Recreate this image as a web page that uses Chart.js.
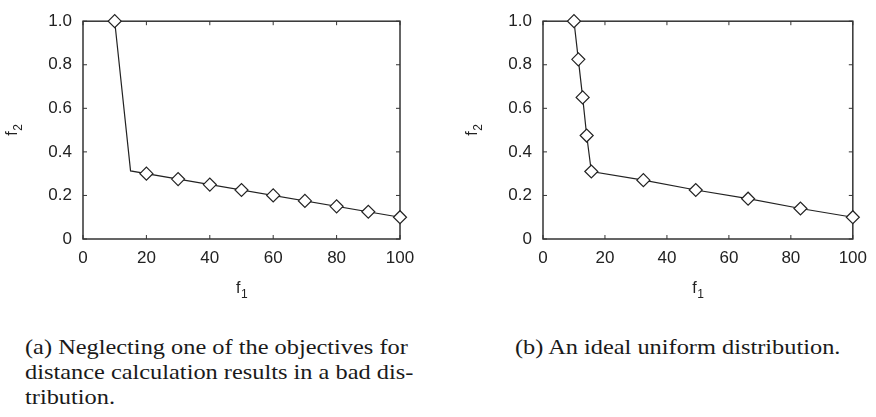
<!DOCTYPE html>
<html>
<head>
<meta charset="utf-8">
<script src="https://cdn.jsdelivr.net/npm/chart.js@4/dist/chart.umd.min.js"></script>
<style>
  body { margin: 0; background: #fff; width: 876px; height: 417px; position: relative; overflow: hidden; }
  canvas { position: absolute; top: 0; }
  #chartA { left: 0; }
  #chartB { left: 460px; }
  .caption {
    position: absolute; top: 335px;
    font-family: "Liberation Serif", "Times New Roman", serif;
    font-size: 21px; line-height: 25px; color: #1a1a1a; white-space: nowrap;
    transform: scaleX(1.16); transform-origin: 0 0;
  }
</style>
</head>
<body>
<canvas id="chartA" width="430" height="298"></canvas>
<canvas id="chartB" width="416" height="298"></canvas>
<div class="caption" style="left:25px">(a) Neglecting one of the objectives for<br>distance calculation results in a bad dis-<br>tribution.</div>
<div class="caption" style="left:515px">(b) An ideal uniform distribution.</div>

<script>
// front shared by both plots: steep part, knee, flat part
var frontF1 = [10, 15, 100]
var frontF2 = [1.0, 0.3125, 0.1]

// (a) solutions spread evenly along f1 only
var f1A = [10, 20, 30, 40, 50, 60, 70, 80, 90, 100]
var f2A = [1.0, 0.30, 0.275, 0.25, 0.225, 0.20, 0.175, 0.15, 0.125, 0.10]

// (b) solutions spread evenly along the front
var f1B = [10, 11.4, 12.8, 14.1, 15.6, 32.4, 49.3, 66.2, 83.1, 100]
var f2B = [1.0, 0.825, 0.65, 0.475, 0.31, 0.27, 0.225, 0.185, 0.14, 0.10]

var xTicks = [0, 20, 40, 60, 80, 100]
var yTicks = [0, 0.2, 0.4, 0.6, 0.8, 1.0]

var ink = '#222'
var sans = 'Liberation Sans, Arial, sans-serif'
var tickFont = { family: sans, size: 17 }

function pts(xs, ys) {
    return xs.map(function (x, i) { return { x: x, y: ys[i] } })
}

// "f" with a lowered, smaller index, centred on (cx, cy); rotated for the y axis
function drawSubLabel(ctx, main, sub, cx, cy, vertical) {
    ctx.save()
    ctx.fillStyle = ink
    ctx.textBaseline = 'alphabetic'
    ctx.textAlign = 'left'
    ctx.font = '16px ' + sans
    var wMain = ctx.measureText(main).width
    ctx.font = '12px ' + sans
    var wSub = ctx.measureText(sub).width
    var total = wMain + wSub
    ctx.translate(cx, cy)
    if (vertical) ctx.rotate(-Math.PI / 2)
    ctx.font = '16px ' + sans
    ctx.fillText(main, -total / 2, 0)
    ctx.font = '12px ' + sans
    ctx.fillText(sub, -total / 2 + wMain + 0.5, 5)
    ctx.restore()
}

// box around the plot with small inward tick marks on all four sides, plus axis names
var framePlugin = {
    id: 'frame',
    beforeDatasetsDraw: function (chart) {
        var ctx = chart.ctx
        var a = chart.chartArea
        var sx = chart.scales.x, sy = chart.scales.y
        ctx.save()
        ctx.strokeStyle = '#333'
        ctx.lineWidth = 1.5
        ctx.strokeRect(a.left, a.top, a.right - a.left, a.bottom - a.top)
        ctx.lineWidth = 1
        xTicks.forEach(function (v) {
            var px = sx.getPixelForValue(v)
            ctx.beginPath()
            ctx.moveTo(px, a.bottom); ctx.lineTo(px, a.bottom - 4)
            ctx.moveTo(px, a.top); ctx.lineTo(px, a.top + 4)
            ctx.stroke()
        })
        yTicks.forEach(function (v) {
            var py = sy.getPixelForValue(v)
            ctx.beginPath()
            ctx.moveTo(a.left, py); ctx.lineTo(a.left + 4, py)
            ctx.moveTo(a.right, py); ctx.lineTo(a.right - 4, py)
            ctx.stroke()
        })
        ctx.restore()

        drawSubLabel(ctx, 'f', '1', (a.left + a.right) / 2, 293, false)
        drawSubLabel(ctx, 'f', '2', 17, (a.top + a.bottom) / 2, true)
    }
}

function makeChart(id, lineData, markData, padRight) {
    var ctx = document.getElementById(id).getContext('2d')
    return new Chart(ctx, {
        type: 'scatter',
        data: {
            datasets: [{
                data: markData,
                showLine: false,
                pointStyle: 'rectRot',
                pointRadius: 6.5,
                pointBackgroundColor: '#fff',
                pointBorderColor: ink,
                pointBorderWidth: 1.2,
                clip: false,
                order: 0
            }, {
                data: lineData,
                showLine: true,
                borderColor: ink,
                borderWidth: 1.2,
                pointRadius: 0,
                clip: false,
                order: 1
            }]
        },
        options: {
            responsive: false,
            animation: false,
            layout: { padding: { left: 0, top: 15, right: padRight, bottom: 0 } },
            plugins: { legend: { display: false }, tooltip: { enabled: false } },
            scales: {
                x: {
                    type: 'linear', min: 0, max: 100,
                    afterBuildTicks: function (s) { s.ticks = xTicks.map(function (v) { return { value: v } }) },
                    afterFit: function (s) { s.height = 59 },
                    grid: { display: false, drawTicks: false },
                    border: { display: false },
                    ticks: { color: ink, font: tickFont, padding: 9, maxRotation: 0 }
                },
                y: {
                    type: 'linear', min: 0, max: 1,
                    afterBuildTicks: function (s) { s.ticks = yTicks.map(function (v) { return { value: v } }) },
                    afterFit: function (s) { s.width = 83 },
                    grid: { display: false, drawTicks: false },
                    border: { display: false },
                    ticks: {
                        color: ink, font: tickFont, padding: 11,
                        callback: function (v) { return v === 0 ? '0' : v.toFixed(1) }
                    }
                }
            }
        },
        plugins: [framePlugin]
    })
}

makeChart('chartA', pts(frontF1, frontF2), pts(f1A, f2A), 30)
makeChart('chartB', pts(f1B, f2B), pts(f1B, f2B), 19)
</script>
</body>
</html>
